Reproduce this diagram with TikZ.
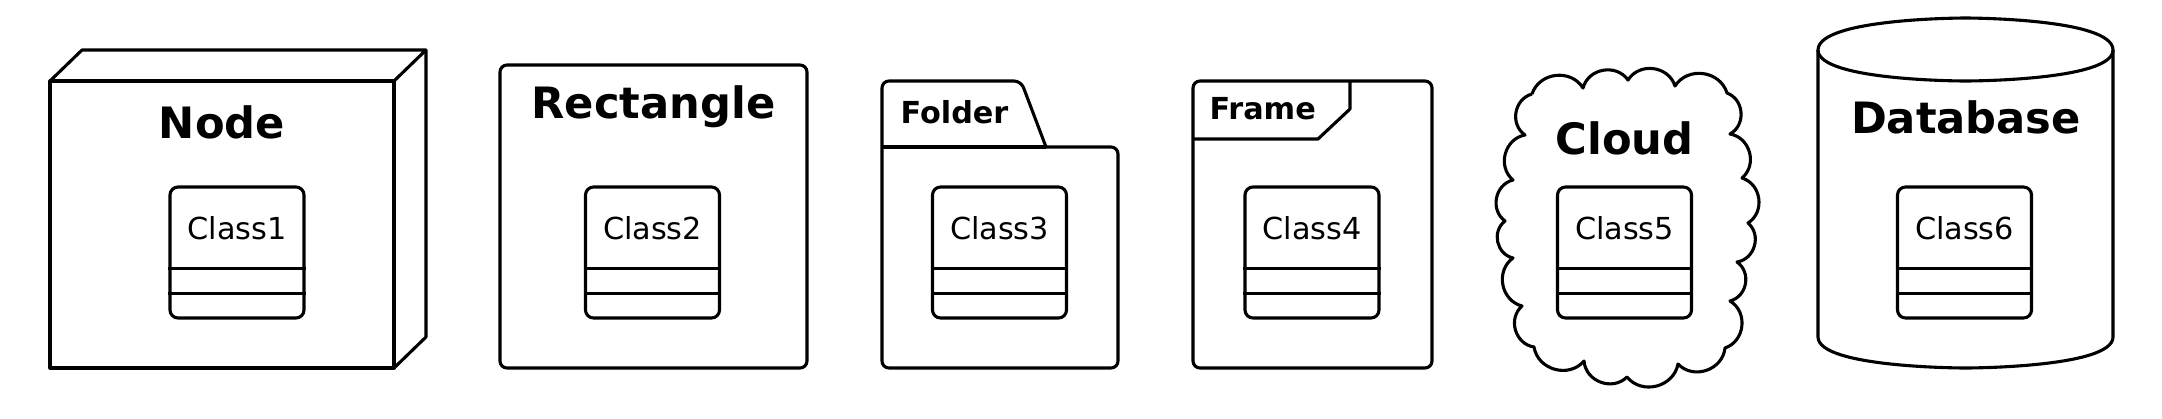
\documentclass[tikz,border=0pt]{standalone}
\usepackage{fontspec}
\setmainfont{DejaVu Sans}
\usetikzlibrary{calc}
\newcommand\umlclass[3]{%
  \node[classbox] (#1) at (#2,252.5) {};
  \node[classlbl] (#1t) at (#2,239) {#3};
  \draw ($(#1.south west)+(0,-51)$) -- ($(#1.south east)+(0,-51)$);
  \draw ($(#1.south west)+(0,-26)$) -- ($(#1.south east)+(0,-26)$);}
\begin{document}
\begin{tikzpicture}[x=1pt,y=-1pt,line width=3.1pt,line join=round,
  classbox/.style={draw,rounded corners=8pt,minimum width=134pt,minimum height=131pt,inner sep=0pt},
  classlbl/.style={anchor=base,inner sep=0pt,font=\fontsize{30.3}{36}\selectfont},
  title/.style={anchor=base,inner sep=0pt,font=\fontsize{43.2}{50}\selectfont\bfseries},
  tabtitle/.style={anchor=base west,inner sep=0pt,font=\fontsize{30.3}{36}\selectfont\bfseries},
  bump/.style={bend left=65,looseness=1.15}]
\useasboundingbox (0,0) rectangle (2162,418);

% Node (3D box)
\draw (50,81) rectangle (394,368);
\draw (50,81) -- (82,50) -- (426,50) -- (394,81);
\draw (426,50) -- (426,337) -- (394,368);
\node[title] (tnode) at (222,138) {Node};
\umlclass{c1}{237}{Class1}

% Rectangle
\draw[rounded corners=7pt] (500,65) rectangle (807,368);
\node[title] (trect) at (653.5,118) {Rectangle};
\umlclass{c2}{652.5}{Class2}

% Folder
\draw[rounded corners=7pt] (1046,147) -- (1118,147) -- (1118,368) -- (882,368) -- (882,81) -- (1021,81) -- (1046,147);
\draw (882,147) -- (1046,147);
\node[tabtitle] (tfold) at (899,123) {Folder};
\umlclass{c3}{999.5}{Class3}

% Frame
\draw[rounded corners=7pt] (1193,81) rectangle (1432,368);
\draw (1193,139) -- (1318,139) -- (1350,109) -- (1350,81);
\node[tabtitle] (tframe) at (1208,119) {Frame};
\umlclass{c4}{1312}{Class4}

% Cloud
\coordinate (p1) at (1532,94);
\coordinate (p2) at (1583,88);
\coordinate (p3) at (1628,80);
\coordinate (p4) at (1675,86);
\coordinate (p5) at (1727,93);
\coordinate (p6) at (1730,134);
\coordinate (p7) at (1742,178);
\coordinate (p8) at (1748,223);
\coordinate (p9) at (1737,262);
\coordinate (p10) at (1730,301);
\coordinate (p11) at (1725,348);
\coordinate (p12) at (1678,364);
\coordinate (p13) at (1627,377);
\coordinate (p14) at (1584,361);
\coordinate (p15) at (1534,347);
\coordinate (p16) at (1522,306);
\coordinate (p17) at (1513,258);
\coordinate (p18) at (1505,221);
\coordinate (p19) at (1513,180);
\coordinate (p20) at (1525,135);
\draw (p1) to[bump] (p2) to[bump] (p3) to[bump] (p4) to[bump] (p5)
  to[bump] (p6) to[bump] (p7) to[bump] (p8) to[bump] (p9) to[bump] (p10)
  to[bump] (p11) to[bump] (p12) to[bump] (p13) to[bump] (p14) to[bump] (p15)
  to[bump] (p16) to[bump] (p17) to[bump] (p18) to[bump] (p19) to[bump] (p20)
  to[bump] (p1);
\node[title] (tcloud) at (1624.5,154) {Cloud};
\umlclass{c5}{1624.5}{Class5}

% Database
\draw (1818,50) .. controls (1818,18) and (1965.5,18) .. (1965.5,18)
  .. controls (1965.5,18) and (2113,18) .. (2113,50) -- (2113,337)
  .. controls (2113,368) and (1965.5,368) .. (1965.5,368)
  .. controls (1965.5,368) and (1818,368) .. (1818,337) -- cycle;
\draw (1818,50) .. controls (1818,81) and (1965.5,81) .. (1965.5,81)
  .. controls (1965.5,81) and (2113,81) .. (2113,50);
\node[title] (tdb) at (1966,133) {Database};
\umlclass{c6}{1964.5}{Class6}
\end{tikzpicture}
\end{document}
